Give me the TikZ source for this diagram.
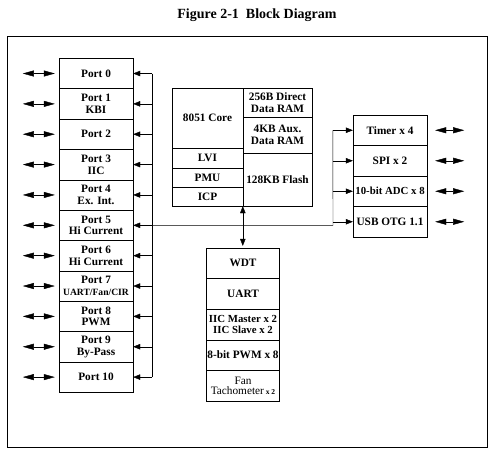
\documentclass[tikz,border=0pt]{standalone}
\usepackage{fontspec}
\setmainfont{Liberation Serif}
\usetikzlibrary{arrows.meta}

\newcommand\lbl{\fontsize{11.3}{11.5}\selectfont\bfseries}
\newcommand\ufc{{\fontsize{9.6}{11}\selectfont UART/Fan/CIR}}

\tikzset{
  blk/.style={draw, inner sep=0pt, align=center, font=\lbl},
  port/.style={blk, minimum width=74pt, minimum height=30.36pt},
  dbl/.style={{Triangle[length=11pt,width=6pt]}-{Triangle[length=11pt,width=6pt]}},
  arr/.style={-{Triangle[length=7pt,width=5.5pt]}},
  arrs/.style={{Triangle[length=7pt,width=5.5pt]}-{Triangle[length=7pt,width=5.5pt]}},
}

\begin{document}
\begin{tikzpicture}[x=1pt, y=-1pt]
  \useasboundingbox (0,0) rectangle (500,459);
  \node[font=\fontsize{14}{16}\selectfont\bfseries] (title) at (257,15) {Figure 2-1\ \ Block Diagram};
  \draw (7,36) rectangle (487,447);

  % ports on the left
  \foreach \i/\lab in {0/{Port 0}, 1/{Port 1\\KBI}, 2/{Port 2}, 3/{Port 3\\IIC},
                       4/{Port 4\\Ex. Int.}, 5/{Port 5\\Hi Current}, 6/{Port 6\\Hi Current},
                       7/{Port 7\\\ufc}, 8/{Port 8\\PWM}, 9/{Port 9\\By-Pass}, 10/{Port 10}} {
    \node[port] (P\i) at (96, 73.5+30.36*\i) {\lab};
    \draw[dbl] ([xshift=-36pt]P\i.west) -- ([xshift=-4pt]P\i.west);
    \draw[arr] ([xshift=19pt]P\i.east) -- (P\i.east);
  }
  \draw ([xshift=19pt]P0.east) -- ([xshift=19pt]P10.east);

  % core
  \node[blk, minimum width=71pt, minimum height=60pt] (core) at (207.5,118) {8051 Core};
  \node[blk, minimum width=71pt, minimum height=20pt] (LVI) at (207.5,158) {LVI};
  \node[blk, minimum width=71pt, minimum height=19pt] (PMU) at (207.5,177.5) {PMU};
  \node[blk, minimum width=71pt, minimum height=19pt] (ICP) at (207.5,196.5) {ICP};
  \node[blk, minimum width=69pt, minimum height=29pt] (DRAM) at (277.5,102.5) {256B Direct\\Data RAM};
  \node[blk, minimum width=69pt, minimum height=36pt] (XRAM) at (277.5,135) {4KB Aux.\\Data RAM};
  \node[blk, minimum width=69pt, minimum height=53pt] (FLASH) at (277.5,179.5) {128KB Flash};

  % peripherals below the core
  \node[blk, minimum width=73pt, minimum height=30.6pt] (WDT) at (243,263.3) {WDT};
  \node[blk, minimum width=73pt, minimum height=30.6pt] (UART) at (243,293.9) {UART};
  \node[blk, minimum width=73pt, minimum height=30.6pt, font=\fontsize{10.8}{11}\selectfont\bfseries] (IICM) at (243,324.5) {IIC Master x 2\\IIC Slave x 2};
  \node[blk, minimum width=73pt, minimum height=30.6pt] (PWM) at (243,355.1) {8-bit PWM x 8};
  \node[blk, minimum width=73pt, minimum height=30.6pt, font=\normalfont\fontsize{11.3}{10.5}\selectfont] (FAN) at (243,385.7)
    {Fan\\Tachometer\,{\bfseries\fontsize{7.5}{8}\selectfont x 2}};
  \draw[arrs, shorten >=2pt] (FLASH.south west) -- (FLASH.south west |- WDT.north);

  % peripherals on the right
  \foreach \j/\nm/\lab in {0/TMR/Timer x 4, 1/SPI/SPI x 2, 2/ADC/{\fontsize{10.8}{11}\selectfont 10-bit ADC x 8}, 3/USB/USB OTG 1.1} {
    \node[port, minimum height=30.5pt] (\nm) at (390, 130.25+30.5*\j) {\lab};
    \draw[arr] ([xshift=-20pt]\nm.west) -- (\nm.west);
    \draw[dbl] ([xshift=8pt]\nm.east) -- ([xshift=37pt]\nm.east);
  }
  \coordinate (jl) at ([xshift=19pt]P5.east);
  \coordinate (jr) at (333,225.3);
  \coordinate (jt) at ([xshift=-20pt]TMR.west);
  \draw (jl) -- (jr) -- (jt);
\end{tikzpicture}
\end{document}
